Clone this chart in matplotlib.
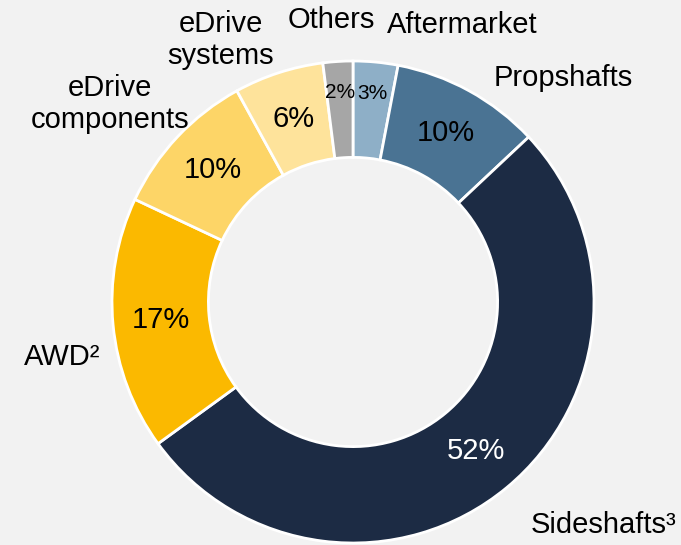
import numpy as np
import matplotlib.pyplot as plt

plt.rcParams['font.family'] = ['Liberation Sans', 'DejaVu Sans']

segments = ['Aftermarket', 'Propshafts', 'Sideshafts³', 'AWD²',
            'eDrive\ncomponents', 'eDrive\nsystems', 'Others']
shares = [3, 10, 52, 17, 10, 6, 2]
colors = ['#8eafc7', '#4a7393', '#1c2b44', '#fbb900', '#fdd567', '#fee39b', '#a6a6a6']
pct_colors = ['black', 'black', 'white', 'black', 'black', 'black', 'black']

# label anchors in pixels (figure is 681x545, donut centre at 353,302, radius 241)
label_pos = [(462, 25), (563, 78), (604, 525), (62, 357), (110, 104), (221, 40), (331, 20)]
W, H = 681, 545
cx, cy, R = 353, 302, 241

fig = plt.figure(figsize=(6.81, 5.45), dpi=100, facecolor='#f2f2f2')
ax = fig.add_axes([0, 0, 1, 1])
ax.set_facecolor('#f2f2f2')

ax.pie(shares, colors=colors, startangle=90, counterclock=False, radius=1,
       wedgeprops=dict(width=0.4, edgecolor='white', linewidth=2))

ax.set_xlim(-cx / R, (W - cx) / R)
ax.set_ylim(-(H - cy) / R, cy / R)
ax.set_aspect('auto')
ax.axis('off')

total = sum(shares)
cum = np.cumsum([0] + shares[:-1])
for i, v in enumerate(shares):
    mid = (cum[i] + v / 2) / total * 2 * np.pi
    small = v < 5
    r = 0.87 if small else 0.8
    ax.text(r * np.sin(mid), r * np.cos(mid), f'{v}%', ha='center', va='center',
            fontsize=15 if small else 21, color=pct_colors[i])

for name, (px, py) in zip(segments, label_pos):
    fig.text(px / W, 1 - py / H, name, ha='center', va='center', fontsize=21,
             linespacing=1.15)

fig.savefig('out.png', dpi=100, facecolor=fig.get_facecolor())
